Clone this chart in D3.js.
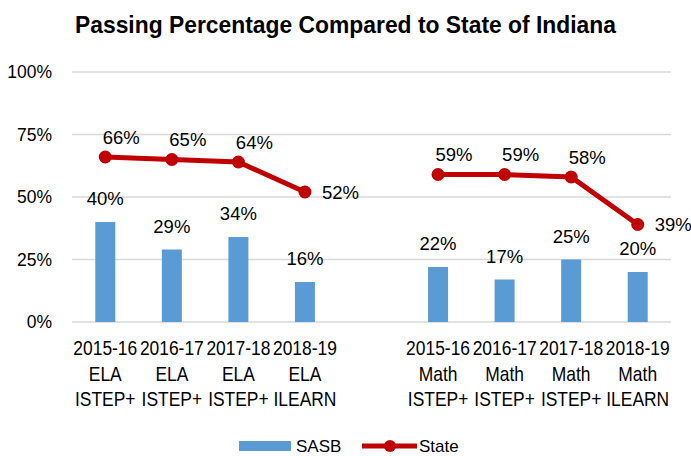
<script src="https://cdnjs.cloudflare.com/ajax/libs/d3/7.8.5/d3.min.js"></script>
<style>
  body { margin: 0; background: #fff; }
  svg text { font-family: "Liberation Sans", Arial, sans-serif; fill: #000; }
</style>
<svg id="chart" width="691" height="456"></svg>
<script>
  // chart data
  const categories = [
    ["2015-16", "ELA", "ISTEP+"], ["2016-17", "ELA", "ISTEP+"], ["2017-18", "ELA", "ISTEP+"], ["2018-19", "ELA", "ILEARN"],
    [],
    ["2015-16", "Math", "ISTEP+"], ["2016-17", "Math", "ISTEP+"], ["2017-18", "Math", "ISTEP+"], ["2018-19", "Math", "ILEARN"]
  ]
  const sasb = [40, 29, 34, 16, null, 22, 17, 25, 20]
  const state = [66, 65, 64, 52, null, 59, 59, 58, 39]
  const yTicks = [0, 25, 50, 75, 100]
  const seriesNames = ["SASB", "State"]

  const blue = "#5B9BD5", red = "#C00000"
  const svg = d3.select("#chart")
  const margin = {top: 72, right: 20, bottom: 134, left: 72}
  const width = svg.attr("width") - margin.left - margin.right
  const height = svg.attr("height") - margin.top - margin.bottom

  const x = d3.scaleBand().domain(d3.range(categories.length)).range([0, width]).padding(0)
  const y = d3.scaleLinear().domain([0, 100]).range([height, 0])
  const cx = i => x(i) + x.bandwidth() / 2
  const barW = 20

  // title (condensed like the original)
  svg.append("text")
    .attr("x", 75).attr("y", 33)
    .attr("textLength", 541).attr("lengthAdjust", "spacingAndGlyphs")
    .style("font-size", "24.5px").style("font-weight", "bold")
    .text("Passing Percentage Compared to State of Indiana")

  const g = svg.append("g").attr("transform", "translate(" + margin.left + "," + margin.top + ")")

  // gridlines + y labels
  g.selectAll(".grid").data(yTicks).enter()
    .append("line")
    .attr("x1", 0).attr("x2", width)
    .attr("y1", d => y(d)).attr("y2", d => y(d))
    .attr("stroke", "#D9D9D9").attr("stroke-width", 1.5)
  g.selectAll(".ylab").data(yTicks).enter()
    .append("text")
    .attr("x", -20).attr("y", d => y(d))
    .attr("dy", "0.36em")
    .attr("text-anchor", "end")
    .style("font-size", "17.5px")
    .text(d => d + "%")

  // bars
  const barIdx = d3.range(sasb.length).filter(i => sasb[i] != null)
  g.selectAll(".bar").data(barIdx).enter()
    .append("rect")
    .attr("x", i => cx(i) - barW / 2)
    .attr("width", barW)
    .attr("y", i => y(sasb[i]))
    .attr("height", i => height - y(sasb[i]))
    .attr("fill", blue)
  g.selectAll(".barlab").data(barIdx).enter()
    .append("text")
    .attr("x", i => cx(i))
    .attr("y", i => y(sasb[i]) - 17)
    .attr("text-anchor", "middle")
    .style("font-size", "18.5px")
    .text(i => sasb[i] + "%")

  // state line
  const line = d3.line()
    .defined(i => state[i] != null)
    .x(i => cx(i)).y(i => y(state[i]))
  g.append("path")
    .datum(d3.range(state.length))
    .attr("fill", "none").attr("stroke", red).attr("stroke-width", 5)
    .attr("d", line)
  const ptIdx = d3.range(state.length).filter(i => state[i] != null)
  g.selectAll(".pt").data(ptIdx).enter()
    .append("circle")
    .attr("cx", i => cx(i)).attr("cy", i => y(state[i]))
    .attr("r", 6.5).attr("fill", red)
  const isEnd = i => i === 3 || i === 8
  g.selectAll(".ptlab").data(ptIdx).enter()
    .append("text")
    .attr("x", i => isEnd(i) ? cx(i) + 17 : cx(i) + 16)
    .attr("y", i => isEnd(i) ? y(state[i]) : y(state[i]) - 20)
    .attr("dy", "0.36em")
    .attr("text-anchor", i => isEnd(i) ? "start" : "middle")
    .style("font-size", "18.5px")
    .text(i => state[i] + "%")

  // category labels, squeezed horizontally
  const xl = g.selectAll(".xlab").data(d3.range(categories.length)).enter()
    .append("text")
    .attr("transform", i => "translate(" + cx(i) + ",0) scale(0.85,1)")
    .attr("text-anchor", "middle")
    .style("font-size", "20.5px")
  xl.selectAll("tspan").data(i => categories[i]).enter()
    .append("tspan")
    .attr("x", 0)
    .attr("y", (d, k) => height + 33.5 + k * 25.2)
    .text(d => d)

  // legend
  const leg = svg.append("g").attr("transform", "translate(0,446)")
  leg.append("rect").attr("x", 239).attr("y", -5).attr("width", 52).attr("height", 10).attr("fill", blue)
  leg.append("text").attr("x", 296).attr("dy", "0.36em").style("font-size", "17px").text(seriesNames[0])
  leg.append("line").attr("x1", 362).attr("x2", 417).attr("stroke", red).attr("stroke-width", 5)
  leg.append("circle").attr("cx", 390).attr("r", 6).attr("fill", red)
  leg.append("text").attr("x", 419).attr("dy", "0.36em").style("font-size", "17px").text(seriesNames[1])
</script>
